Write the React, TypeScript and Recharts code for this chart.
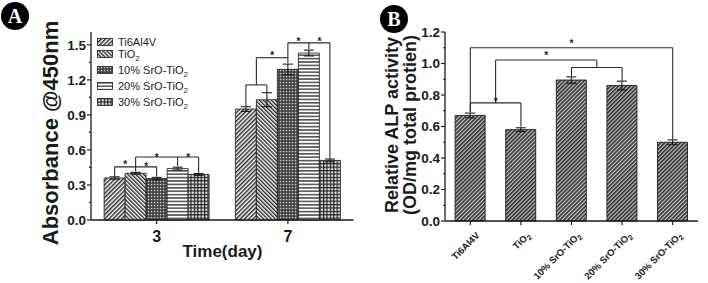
import React from "react";
import { BarChart, Bar, XAxis, YAxis, ErrorBar, ReferenceLine, ReferenceDot, Legend } from "recharts";

const FONT = '"Liberation Sans", Arial, Helvetica, sans-serif';
const INK = "#1b1b1b";

// ---- panel A: absorbance @450nm ----
const days = ["3", "7"];
const seriesLabels = ["Ti6Al4V", "TiO2", "10% SrO-TiO2", "20% SrO-TiO2", "30% SrO-TiO2"];
const absTi6Al4V = [0.36, 0.95];
const absTiO2 = [0.4, 1.03];
const absSr10 = [0.355, 1.29];
const absSr20 = [0.44, 1.43];
const absSr30 = [0.39, 0.51];
const errTi6Al4V = [0.01, 0.02];
const errTiO2 = [0.008, 0.06];
const errSr10 = [0.01, 0.045];
const errSr20 = [0.012, 0.025];
const errSr30 = [0.008, 0.012];
const absTicks = [0, 0.15, 0.3, 0.45, 0.6, 0.75, 0.9, 1.05, 1.2, 1.35, 1.5];

// significance brackets, points are [day index, bar slot, value]
const absBrackets = [
  [[0, 0, 0.375], [0, 0, 0.455], [0, 2, 0.455], [0, 2, 0.372]],
  [[0, 1, 0.415], [0, 1, 0.54], [0, 4, 0.54], [0, 4, 0.405]],
  [[0, 3, 0.54], [0, 3, 0.46]],
  [[1, 0, 0.975], [1, 0, 1.157], [1, 1, 1.157], [1, 1, 1.095]],
  [[1, 0.5, 1.157], [1, 0.5, 1.39], [1, 2, 1.39]],
  [[1, 2, 1.345], [1, 2, 1.517], [1, 4, 1.517], [1, 4, 0.525]],
  [[1, 3, 1.517], [1, 3, 1.46]],
];
const absStars = [
  [0, 0.5, 0.49], [0, 1.5, 0.48], [0, 2, 0.557], [0, 3.5, 0.557],
  [1, 1.25, 1.43], [1, 2.5, 1.55], [1, 3.5, 1.55],
];

// ---- panel B: ALP activity ----
const alpGroups = ["Ti6Al4V", "TiO2", "10% SrO-TiO2", "20% SrO-TiO2", "30% SrO-TiO2"];
const alpValues = [0.67, 0.58, 0.895, 0.86, 0.5];
const alpErrors = [0.015, 0.012, 0.02, 0.028, 0.015];
const alpTicks = [0, 0.1, 0.2, 0.3, 0.4, 0.5, 0.6, 0.7, 0.8, 0.9, 1.0, 1.1, 1.2];

// points are [group index, value]
const alpBrackets = [
  [[0, 0.69], [0, 0.75], [1, 0.75], [1, 0.6]],
  [[2, 0.92], [2, 0.975], [3, 0.975], [3, 0.89]],
  [[0.5, 0.75], [0.5, 1.022], [2.5, 1.022], [2.5, 0.975]],
  [[0, 0.69], [0, 1.1], [4, 1.1], [4, 0.52]],
];
const alpStars = [[0.5, 0.775], [1.5, 1.065], [2, 1.14]];

const absSeries = [absTi6Al4V, absTiO2, absSr10, absSr20, absSr30];
const absErrs = [errTi6Al4V, errTiO2, errSr10, errSr20, errSr30];
const patternIds = ["pTi", "pTiO2", "pSr10", "pSr20", "pSr30"];

const absRows = days.map((day, d) => {
  const row: any = { day, idx: d };
  absSeries.forEach((vals, s) => {
    row[`v${s}`] = vals[d];
    row[`e${s}`] = absErrs[s][d];
  });
  return row;
});

const alpRows = alpGroups.map((name, i) => ({ name, idx: i, alp: alpValues[i], err: alpErrors[i] }));

const GAP_A = 0.1;
const slotX = (day: number, slot: number) =>
  day + GAP_A + ((slot + 0.5) * (1 - 2 * GAP_A)) / seriesLabels.length;

const splitSub = (label: string): [string, string | null] =>
  label.endsWith("TiO2") ? [label.slice(0, -1), "2"] : [label, null];

const TICK_SIZE = 4;
const TICK_MARGIN = 1;

const ValueTick = (props: any) => {
  const { x, y, payload, step, size } = props;
  const v = payload.value;
  const major = Math.abs(v / step - Math.round(v / step)) < 1e-6;
  const axisX = x + TICK_SIZE + TICK_MARGIN;
  return (
    <g>
      <line x1={axisX - (major ? TICK_SIZE : 2)} x2={axisX} y1={y} y2={y} stroke={INK} strokeWidth={1.2} />
      {major && (
        <text x={x} y={y} dy="0.36em" textAnchor="end" fontFamily={FONT} fontWeight="bold" fontSize={size} fill={INK}>
          {v.toFixed(1)}
        </text>
      )}
    </g>
  );
};

const DayTick = (props: any) => {
  const { x, y, payload } = props;
  return (
    <text x={x} y={y} dy={16} textAnchor="middle" fontFamily={FONT} fontWeight="bold" fontSize={16} fill={INK}>
      {payload.value}
    </text>
  );
};

const GroupTick = (props: any) => {
  const { x, y, payload } = props;
  const [main, sub] = splitSub(payload.value);
  return (
    <g transform={`translate(${x + 10},${y + 9}) rotate(-45)`}>
      <text textAnchor="end" fontFamily={FONT} fontWeight="bold" fontSize={9.5} fill={INK}>
        {main}
        {sub && (
          <tspan dy={2.5} fontSize={7.5}>
            {sub}
          </tspan>
        )}
      </text>
    </g>
  );
};

const Star = (p: any) => (
  <text x={p.cx} y={p.cy} dy="0.56em" textAnchor="middle" fontFamily={FONT} fontWeight="bold" fontSize={10} fill={INK}>
    *
  </text>
);

const legendGap = [0, -2.5, 2.3, 2.3, 2.3];

const AbsLegend = () => (
  <div style={{ fontFamily: FONT, fontSize: 11, color: INK }}>
    {seriesLabels.map((label, i) => {
      const [main, sub] = splitSub(label);
      return (
        <div key={label} style={{ display: "flex", alignItems: "center", height: 14, marginTop: legendGap[i] }}>
          <svg width={16} height={8} style={{ display: "block" }}>
            <rect x={0.5} y={0.5} width={15} height={7} fill={`url(#${patternIds[i]})`} stroke={INK} strokeWidth={0.8} />
          </svg>
          <span style={{ marginLeft: 5, whiteSpace: "nowrap", lineHeight: "14px" }}>
            {main}
            {sub && <sub style={{ fontSize: 8, lineHeight: 0 }}>{sub}</sub>}
          </span>
        </div>
      );
    })}
  </div>
);

const Badge = ({ letter, left, top }: { letter: string; left: number; top: number }) => (
  <div
    style={{
      position: "absolute",
      left,
      top,
      width: 28,
      height: 28,
      borderRadius: "50%",
      background: "#000",
      color: "#fff",
      fontFamily: '"Liberation Serif", "DejaVu Serif", serif',
      fontWeight: "bold",
      fontSize: 20,
      lineHeight: "28px",
      textAlign: "center",
    }}
  >
    {letter}
  </div>
);

function AbsorbanceChart() {
  return (
    <BarChart
      width={360}
      height={283}
      data={absRows}
      margin={{ top: 32, right: 6.5, bottom: 18, left: 31 }}
      barCategoryGap={`${GAP_A * 100}%`}
      barGap={0}
    >
      <defs>
        <pattern id="pTi" width={3} height={3} patternUnits="userSpaceOnUse" patternTransform="rotate(45)">
          <rect width={3} height={3} fill="#fff" />
          <rect width={1.5} height={3} fill="#2a2a2a" />
        </pattern>
        <pattern id="pTiO2" width={2.8} height={2.8} patternUnits="userSpaceOnUse" patternTransform="rotate(-45)">
          <rect width={2.8} height={2.8} fill="#fff" />
          <rect width={1.4} height={2.8} fill="#2a2a2a" />
        </pattern>
        <pattern id="pSr10" width={3} height={3} patternUnits="userSpaceOnUse">
          <rect width={3} height={3} fill="#3a3a3a" />
          <rect x={0.8} y={0.8} width={1.5} height={1.5} fill="#d0d0d0" />
        </pattern>
        <pattern id="pSr20" width={4} height={3.4} patternUnits="userSpaceOnUse">
          <rect width={4} height={3.4} fill="#fff" />
          <rect width={4} height={1.6} fill="#555" />
        </pattern>
        <pattern id="pSr30" width={3.4} height={3.4} patternUnits="userSpaceOnUse">
          <rect width={3.4} height={3.4} fill="#e6e6e6" />
          <rect width={1.2} height={3.4} fill="#222" />
          <rect width={3.4} height={1.2} fill="#222" />
        </pattern>
      </defs>
      <XAxis
        dataKey="day"
        height={45}
        tickSize={TICK_SIZE}
        tick={<DayTick />}
        axisLine={{ stroke: INK, strokeWidth: 1.3 }}
        tickLine={{ stroke: INK, strokeWidth: 1.2 }}
        interval={0}
      />
      <XAxis
        xAxisId="pos"
        dataKey="idx"
        type="number"
        domain={[0, days.length]}
        allowDataOverflow
        orientation="top"
        height={0}
        tick={false}
        tickLine={false}
        axisLine={{ stroke: INK, strokeWidth: 1.3 }}
      />
      <YAxis
        domain={[0, 1.61]}
        ticks={absTicks}
        interval={0}
        width={60}
        tickSize={TICK_SIZE}
        tickMargin={TICK_MARGIN}
        tickLine={false}
        tick={<ValueTick step={0.3} size={13.5} />}
        axisLine={{ stroke: INK, strokeWidth: 1.3 }}
      />
      <YAxis
        yAxisId="right"
        orientation="right"
        type="number"
        domain={[0, 1]}
        width={0}
        tick={false}
        tickLine={false}
        axisLine={{ stroke: INK, strokeWidth: 1.3 }}
      />
      {absSeries.map((_, s) => (
        <Bar
          key={s}
          dataKey={`v${s}`}
          name={seriesLabels[s]}
          fill={`url(#${patternIds[s]})`}
          stroke={INK}
          strokeWidth={0.8}
          isAnimationActive={false}
        >
          <ErrorBar dataKey={`e${s}`} width={5} stroke={INK} strokeWidth={1.1} />
        </Bar>
      ))}
      {absBrackets.flatMap((path, b) =>
        path.slice(1).map((pt, i) => (
          <ReferenceLine
            key={`ab${b}-${i}`}
            xAxisId="pos"
            ifOverflow="visible"
            segment={[
              { x: slotX(path[i][0], path[i][1]), y: path[i][2] },
              { x: slotX(pt[0], pt[1]), y: pt[2] },
            ]}
            stroke="#2b2b2b"
            strokeWidth={1.1}
          />
        ))
      )}
      {absStars.map((st, i) => (
        <ReferenceDot key={`as${i}`} xAxisId="pos" x={slotX(st[0], st[1])} y={st[2]} r={0} ifOverflow="visible" shape={Star} />
      ))}
      <text x={58} y={133} transform="rotate(-90 58 133)" textAnchor="middle" fontFamily={FONT} fontWeight="bold" fontSize={22} fill={INK}>
        Absorbance @450nm
      </text>
      <text x={222.5} y={257} textAnchor="middle" fontFamily={FONT} fontWeight="bold" fontSize={17} fill={INK}>
        Time(day)
      </text>
      <Legend
        content={AbsLegend}
        layout="vertical"
        align="center"
        verticalAlign="middle"
        wrapperStyle={{ left: 97, top: 35, width: "auto", height: "auto" }}
      />
    </BarChart>
  );
}

function AlpChart() {
  return (
    <BarChart width={353} height={283} data={alpRows} margin={{ top: 32, right: 10, bottom: 0, left: 30 }} barCategoryGap="20%">
      <defs>
        <pattern id="pAlp" width={2.8} height={2.8} patternUnits="userSpaceOnUse" patternTransform="rotate(45)">
          <rect width={2.8} height={2.8} fill="#c8c8c8" />
          <rect width={1.6} height={2.8} fill="#2e2e2e" />
        </pattern>
      </defs>
      <XAxis
        dataKey="name"
        height={62}
        tickSize={TICK_SIZE}
        tick={<GroupTick />}
        interval={0}
        axisLine={{ stroke: INK, strokeWidth: 1.3 }}
        tickLine={{ stroke: INK, strokeWidth: 1.2 }}
      />
      <XAxis
        xAxisId="pos"
        dataKey="idx"
        type="number"
        domain={[0, alpGroups.length]}
        allowDataOverflow
        orientation="top"
        height={0}
        tick={false}
        tickLine={false}
        axisLine={{ stroke: INK, strokeWidth: 1.3 }}
      />
      <YAxis
        domain={[0, 1.2]}
        ticks={alpTicks}
        interval={0}
        width={60}
        tickSize={TICK_SIZE}
        tickMargin={TICK_MARGIN}
        tickLine={false}
        tick={<ValueTick step={0.2} size={13.5} />}
        axisLine={{ stroke: INK, strokeWidth: 1.3 }}
      />
      <YAxis
        yAxisId="right"
        orientation="right"
        type="number"
        domain={[0, 1]}
        width={0}
        tick={false}
        tickLine={false}
        axisLine={{ stroke: INK, strokeWidth: 1.3 }}
      />
      <Bar dataKey="alp" fill="url(#pAlp)" stroke={INK} strokeWidth={0.9} isAnimationActive={false}>
        <ErrorBar dataKey="err" width={5} stroke={INK} strokeWidth={1.1} />
      </Bar>
      {alpBrackets.flatMap((path, b) =>
        path.slice(1).map((pt, i) => (
          <ReferenceLine
            key={`bb${b}-${i}`}
            xAxisId="pos"
            ifOverflow="visible"
            segment={[
              { x: path[i][0] + 0.5, y: path[i][1] },
              { x: pt[0] + 0.5, y: pt[1] },
            ]}
            stroke="#2b2b2b"
            strokeWidth={1.1}
          />
        ))
      )}
      {alpStars.map((st, i) => (
        <ReferenceDot key={`bs${i}`} xAxisId="pos" x={st[0] + 0.5} y={st[1]} r={0} ifOverflow="visible" shape={Star} />
      ))}
      <g fontFamily={FONT} fontWeight="bold" fontSize={18} fill={INK}>
        <text x={43} y={125} transform="rotate(-90 43 125)" textAnchor="middle">
          Relative ALP activity
        </text>
        <text x={61} y={125} transform="rotate(-90 61 125)" textAnchor="middle">
          (OD/mg total protien)
        </text>
      </g>
    </BarChart>
  );
}

export default function App() {
  return (
    <div style={{ position: "absolute", left: 0, top: 0, width: 708, height: 283, background: "#fff", overflow: "hidden" }}>
      <div style={{ position: "absolute", left: 0, top: 0 }}>
        <AbsorbanceChart />
      </div>
      <div style={{ position: "absolute", left: 355, top: 0 }}>
        <AlpChart />
      </div>
      <Badge letter="A" left={1} top={2} />
      <Badge letter="B" left={380} top={5} />
    </div>
  );
}
